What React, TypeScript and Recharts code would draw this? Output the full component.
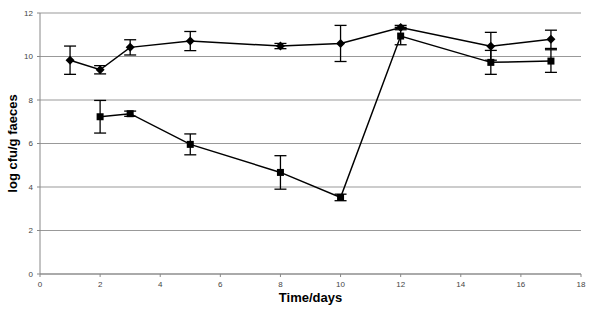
import { LineChart, Line, XAxis, YAxis, CartesianGrid, ErrorBar, Label } from "recharts";

const days = [1, 2, 3, 5, 8, 10, 12, 15, 17];
const diamondValues = [9.83, 9.39, 10.42, 10.71, 10.48, 10.6, 11.33, 10.47, 10.79];
const diamondErrors = [0.65, 0.19, 0.35, 0.44, 0.12, 0.83, 0.1, 0.64, 0.42];

const squareDays = [2, 3, 5, 8, 10, 12, 15, 17];
const squareValues = [7.23, 7.37, 5.96, 4.67, 3.52, 10.94, 9.73, 9.79];
const squareErrors = [0.75, 0.12, 0.48, 0.77, 0.15, 0.4, 0.55, 0.52];

const xTicks = [0, 2, 4, 6, 8, 10, 12, 14, 16, 18];
const yTicks = [0, 2, 4, 6, 8, 10, 12];

const diamondData = days.map((d, i) => ({ day: d, value: diamondValues[i], err: diamondErrors[i] }));
const squareData = squareDays.map((d, i) => ({ day: d, value: squareValues[i], err: squareErrors[i] }));

const tickStyle = { fontSize: 8, fill: "#444", fontFamily: "Liberation Sans, Arial, sans-serif" };
const labelStyle = { fontSize: 13, fontWeight: 700, fill: "#000", fontFamily: "Liberation Sans, Arial, sans-serif" };

const DiamondDot = (props: any) => {
  const { cx, cy, index } = props;
  if (cx == null || cy == null) return <g key={`d-${index}`} />;
  const r = 4.5;
  return (
    <path
      key={`d-${index}`}
      d={`M${cx},${cy - r} L${cx + r},${cy} L${cx},${cy + r} L${cx - r},${cy} Z`}
      fill="#000"
    />
  );
};

const SquareDot = (props: any) => {
  const { cx, cy, index } = props;
  if (cx == null || cy == null) return <g key={`s-${index}`} />;
  const s = 3.5;
  return <rect key={`s-${index}`} x={cx - s} y={cy - s} width={s * 2} height={s * 2} fill="#000" />;
};

export default function App() {
  return (
    <div style={{ position: "absolute", left: 0, top: 0, width: 600, height: 311, background: "#fff" }}>
      <LineChart width={600} height={311} margin={{ top: 13, right: 19, bottom: 0, left: 0 }}>
        <CartesianGrid horizontal vertical={false} stroke="#999" strokeWidth={1} />
        <XAxis
          type="number"
          dataKey="day"
          domain={[0, 18]}
          ticks={xTicks}
          interval={0}
          height={37}
          tick={tickStyle}
          tickSize={3}
          tickMargin={4}
          stroke="#888"
        >
          <Label value="Time/days" position="insideBottom" offset={9} style={labelStyle} />
        </XAxis>
        <YAxis
          type="number"
          domain={[0, 12]}
          ticks={yTicks}
          interval={0}
          width={40}
          tick={tickStyle}
          tickSize={3}
          tickMargin={4}
          stroke="#888"
        >
          <Label value="log cfu/g faeces" angle={-90} position="insideLeft" offset={12} style={{ ...labelStyle, textAnchor: "middle" }} />
        </YAxis>
        <Line
          data={diamondData}
          dataKey="value"
          stroke="#000"
          strokeWidth={1.5}
          dot={DiamondDot}
          activeDot={false}
          isAnimationActive={false}
        >
          <ErrorBar dataKey="err" width={6} stroke="#000" strokeWidth={1.3} direction="y" />
        </Line>
        <Line
          data={squareData}
          dataKey="value"
          stroke="#000"
          strokeWidth={1.5}
          dot={SquareDot}
          activeDot={false}
          isAnimationActive={false}
        >
          <ErrorBar dataKey="err" width={6} stroke="#000" strokeWidth={1.3} direction="y" />
        </Line>
      </LineChart>
    </div>
  );
}
